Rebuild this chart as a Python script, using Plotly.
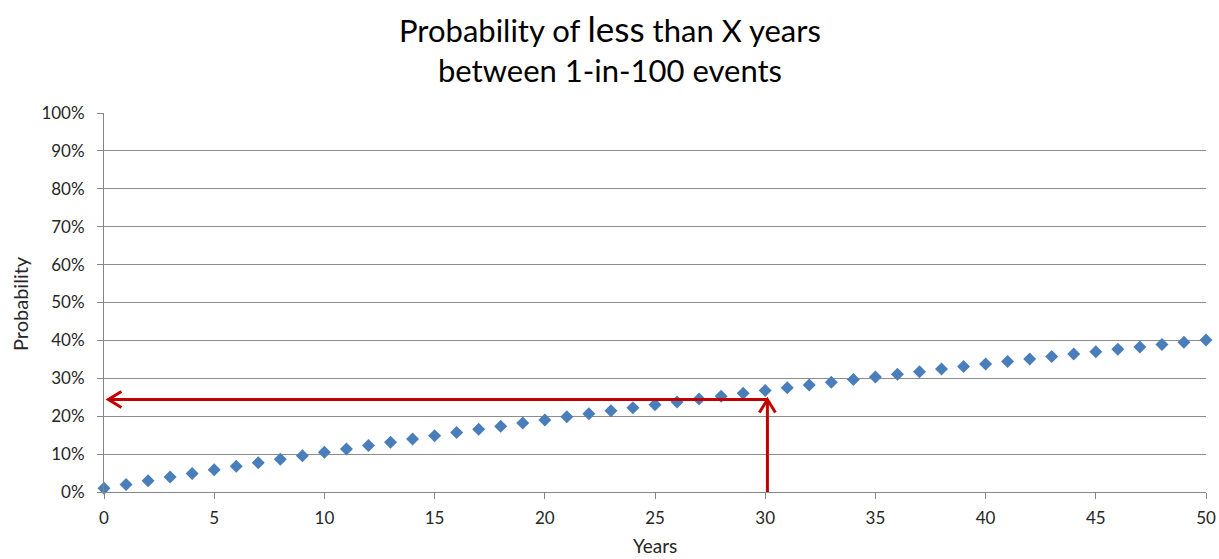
import plotly.graph_objects as go

years = list(range(0, 51))
prob_pct = [1.00, 1.99, 2.97, 3.94, 4.90, 5.85, 6.79, 7.73, 8.65, 9.56,
            10.47, 11.36, 12.25, 13.13, 13.99, 14.85, 15.71, 16.55, 17.38, 18.21,
            19.03, 19.84, 20.64, 21.43, 22.22, 23.00, 23.77, 24.53, 25.28, 26.03,
            26.77, 27.50, 28.23, 28.94, 29.66, 30.36, 31.06, 31.74, 32.43, 33.10,
            33.77, 34.43, 35.09, 35.74, 36.38, 37.02, 37.65, 38.27, 38.89, 39.50,
            40.10]
y_ticks = list(range(0, 101, 10))
y_tick_labels = [f"{v}%" for v in y_ticks]
x_ticks = list(range(0, 51, 5))
title_lines = ["Probability of <span style='font-size:35px'>less</span> than X years",
               "between 1-in-100 events"]

# annotation arrow values
arrow_year = 30.1
arrow_prob = 24.4
arrow_left_year = 0.2
arrow_bottom_prob = -4.0

FONT = "Lato, 'Open Sans', sans-serif"
RED = "#C00000"

fig = go.Figure()
fig.add_trace(go.Scatter(
    x=years, y=prob_pct, mode="markers",
    marker=dict(symbol="diamond", size=10, color="#4A7EBB", line=dict(width=0)),
    showlegend=False, cliponaxis=False,
))

# plot geometry
L, R, T, B = 104, 13, 113, 67
W, H = 1219, 559
PW, PH = W - L - R, H - T - B
px_x = 50 / PW       # data units per pixel (x)
px_y = 100 / PH      # data units per pixel (y)

def paper_x(px):
    return (px - L) / PW

def paper_y(py):
    return (H - B - py) / PH

shapes = []
shapes.append(dict(type="line", xref="x", yref="y", x0=arrow_year, x1=arrow_left_year + 1 * px_x,
                   y0=arrow_prob, y1=arrow_prob, line=dict(color=RED, width=3)))
hx, hy = 13 * px_x, 8 * px_y
shapes.append(dict(type="path", xref="x", yref="y",
                   path=f"M {arrow_left_year + hx},{arrow_prob + hy} L {arrow_left_year},{arrow_prob} L {arrow_left_year + hx},{arrow_prob - hy}",
                   line=dict(color=RED, width=3)))
shapes.append(dict(type="line", xref="x", yref="y", x0=arrow_year, x1=arrow_year,
                   y0=arrow_bottom_prob, y1=arrow_prob - 1 * px_y, line=dict(color=RED, width=3)))
vx, vy = 8 * px_x, 13 * px_y
shapes.append(dict(type="path", xref="x", yref="y",
                   path=f"M {arrow_year - vx},{arrow_prob - vy} L {arrow_year},{arrow_prob} L {arrow_year + vx},{arrow_prob - vy}",
                   line=dict(color=RED, width=3)))

annotations = [
    dict(text=title_lines[0], xref="paper", yref="paper", x=paper_x(610), y=paper_y(28),
         xanchor="center", yanchor="middle", showarrow=False,
         font=dict(family=FONT, size=31, color="#000000")),
    dict(text=title_lines[1], xref="paper", yref="paper", x=paper_x(610), y=paper_y(70),
         xanchor="center", yanchor="middle", showarrow=False,
         font=dict(family=FONT, size=31, color="#000000")),
    dict(text="Years", xref="paper", yref="paper", x=paper_x(655), y=paper_y(545),
         xanchor="center", yanchor="middle", showarrow=False,
         font=dict(family=FONT, size=19, color="#262626")),
    dict(text="Probability", xref="paper", yref="paper", x=paper_x(20), y=paper_y(304),
         xanchor="center", yanchor="middle", showarrow=False, textangle=-90,
         font=dict(family=FONT, size=20, color="#262626")),
]

fig.update_layout(
    width=W, height=H,
    margin=dict(l=L, r=R, t=T, b=B, autoexpand=False),
    paper_bgcolor="white", plot_bgcolor="white",
    font=dict(family=FONT, size=17, color="#262626"),
    shapes=shapes,
    annotations=annotations,
    xaxis=dict(range=[0, 50], tickvals=x_ticks, showgrid=False, zeroline=False,
               showline=True, linecolor="#868686", linewidth=1, automargin=False,
               ticks="outside", ticklen=6, tickcolor="#868686", ticklabelstandoff=5),
    yaxis=dict(range=[0, 100], tickvals=y_ticks, ticktext=y_tick_labels,
               showgrid=True, gridcolor="#8C8C8C", gridwidth=1, zeroline=False,
               showline=True, linecolor="#868686", linewidth=1, automargin=False,
               ticks="outside", ticklen=6, tickcolor="#868686", ticklabelstandoff=9),
)
fig.write_html("out.html")
